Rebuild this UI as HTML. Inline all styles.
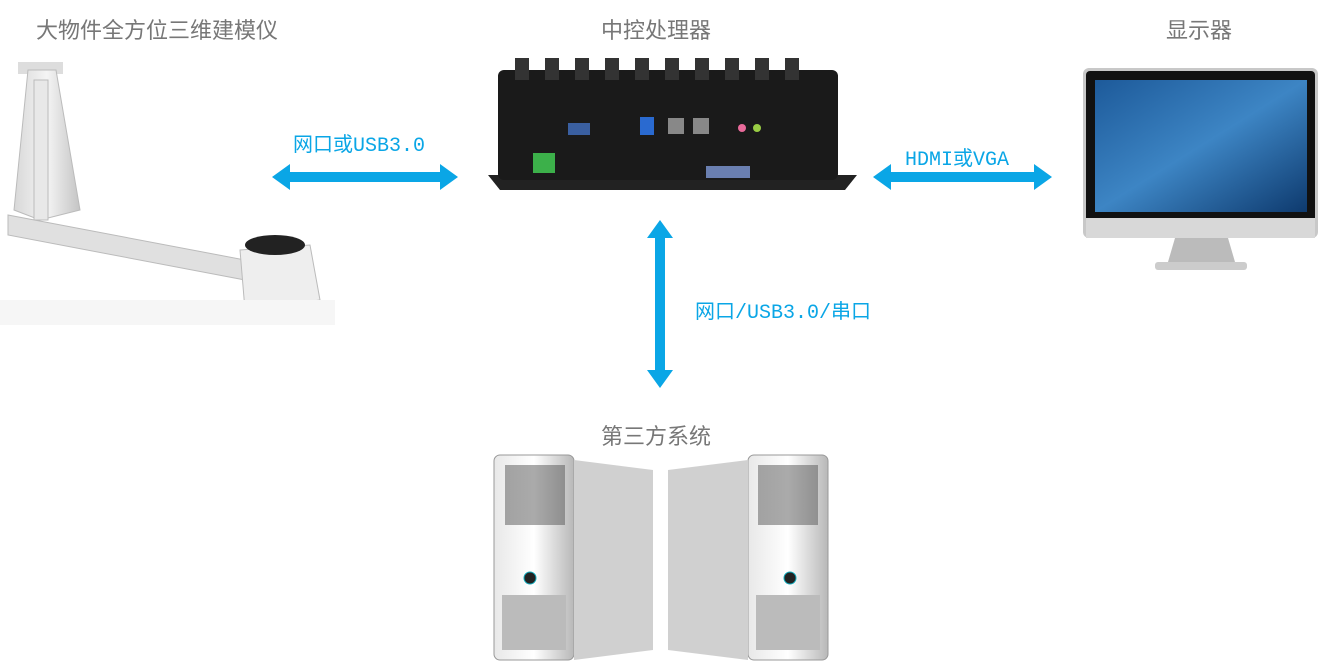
<!DOCTYPE html>
<html><head><meta charset="utf-8"><style>
body{margin:0;width:1324px;height:669px;background:#fff;position:relative;overflow:hidden;font-family:"Liberation Sans","Noto Sans CJK SC",sans-serif}
.t{position:absolute;color:#777;font-size:22px;white-space:nowrap}
.a{position:absolute;color:#0aa6e6;font-size:20px;font-family:"Liberation Mono","Noto Sans CJK SC",monospace;white-space:nowrap}
svg{position:absolute;left:0;top:0}
</style></head><body>
<div class="t" style="left:36px;top:13px">大物件全方位三维建模仪</div>
<div class="t" style="left:601px;top:13px">中控处理器</div>
<div class="t" style="left:1166px;top:13px">显示器</div>
<div class="t" style="left:601px;top:419px">第三方系统</div>
<div class="a" style="left:293px;top:128px">网口或USB3.0</div>
<div class="a" style="left:905px;top:142px">HDMI或VGA</div>
<div class="a" style="left:695px;top:295px">网口/USB3.0/串口</div>
<svg width="1324" height="669">
<defs>
<linearGradient id="g1" x1="0" x2="1"><stop offset="0" stop-color="#d8d8d8"/><stop offset=".5" stop-color="#f4f4f4"/><stop offset="1" stop-color="#c4c4c4"/></linearGradient>
<linearGradient id="scr" x1="0" y1="0" x2="1" y2="1"><stop offset="0" stop-color="#1d5a9a"/><stop offset=".5" stop-color="#3d85c4"/><stop offset="1" stop-color="#0e3a6e"/></linearGradient>
<linearGradient id="tw" x1="0" x2="1"><stop offset="0" stop-color="#e8e8e8"/><stop offset=".5" stop-color="#ffffff"/><stop offset="1" stop-color="#b8b8b8"/></linearGradient>
</defs>
<g fill="#0aa6e6">
<polygon points="272,177 290,164 290,172 440,172 440,164 458,177 440,190 440,182 290,182 290,190"/>
<polygon points="873,177 891,164 891,172 1034,172 1034,164 1052,177 1034,190 1034,182 891,182 891,190"/>
<polygon points="660,220 673,238 665,238 665,370 673,370 660,388 647,370 655,370 655,238 647,238"/>
</g>
<g>
<rect x="18" y="62" width="45" height="12" fill="#ddd"/>
<polygon points="28,70 56,70 80,210 40,220 14,210" fill="url(#g1)" stroke="#bbb"/>
<rect x="34" y="80" width="14" height="140" fill="#e8e8e8" stroke="#bbb"/>
<polygon points="8,215 245,260 245,280 8,235" fill="#e0e0e0" stroke="#bbb"/>
<polygon points="240,250 310,245 320,300 245,310" fill="#eee" stroke="#bbb"/>
<ellipse cx="275" cy="245" rx="30" ry="10" fill="#222"/>
<rect x="0" y="300" width="335" height="25" fill="#f6f6f6"/>
</g>
<g>
<polygon points="488,175 857,175 845,190 500,190" fill="#222"/>
<rect x="498" y="70" width="340" height="110" rx="6" fill="#1a1a1a"/>
<g fill="#333"><rect x="515" y="58" width="14" height="22"/><rect x="545" y="58" width="14" height="22"/><rect x="575" y="58" width="14" height="22"/><rect x="605" y="58" width="14" height="22"/><rect x="635" y="58" width="14" height="22"/><rect x="665" y="58" width="14" height="22"/><rect x="695" y="58" width="14" height="22"/><rect x="725" y="58" width="14" height="22"/><rect x="755" y="58" width="14" height="22"/><rect x="785" y="58" width="14" height="22"/></g>
<rect x="568" y="123" width="22" height="12" fill="#3a5fa0"/>
<rect x="640" y="117" width="14" height="18" fill="#2a6ad0"/>
<rect x="668" y="118" width="16" height="16" fill="#888"/><rect x="693" y="118" width="16" height="16" fill="#888"/>
<circle cx="742" cy="128" r="4" fill="#e96a9a"/><circle cx="757" cy="128" r="4" fill="#9c4"/>
<rect x="533" y="153" width="22" height="20" fill="#3cb04a"/>
<rect x="706" y="166" width="44" height="12" fill="#6a7fb0"/>
</g>
<g>
<rect x="1083" y="68" width="235" height="170" rx="6" fill="#c8c8c8"/>
<rect x="1086" y="71" width="229" height="164" rx="4" fill="#111"/>
<rect x="1095" y="80" width="212" height="132" fill="url(#scr)"/>
<rect x="1086" y="218" width="229" height="20" fill="#d8d8d8"/>
<polygon points="1175,238 1228,238 1235,262 1168,262" fill="#bbb"/>
<rect x="1155" y="262" width="92" height="8" rx="3" fill="#ccc"/>
</g>
<g>
<rect x="494" y="455" width="80" height="205" rx="6" fill="url(#tw)" stroke="#999"/>
<polygon points="574,460 653,470 653,650 574,660" fill="#d0d0d0"/>
<rect x="505" y="465" width="60" height="60" fill="#555" opacity=".5"/>
<circle cx="530" cy="578" r="6" fill="#222" stroke="#1ab"/>
<rect x="502" y="595" width="64" height="55" fill="#bbb"/>
<rect x="748" y="455" width="80" height="205" rx="6" fill="url(#tw)" stroke="#999"/>
<polygon points="748,460 668,470 668,650 748,660" fill="#d0d0d0"/>
<rect x="758" y="465" width="60" height="60" fill="#555" opacity=".5"/>
<circle cx="790" cy="578" r="6" fill="#222" stroke="#1ab"/>
<rect x="756" y="595" width="64" height="55" fill="#bbb"/>
</g>
</svg>
</body></html>
